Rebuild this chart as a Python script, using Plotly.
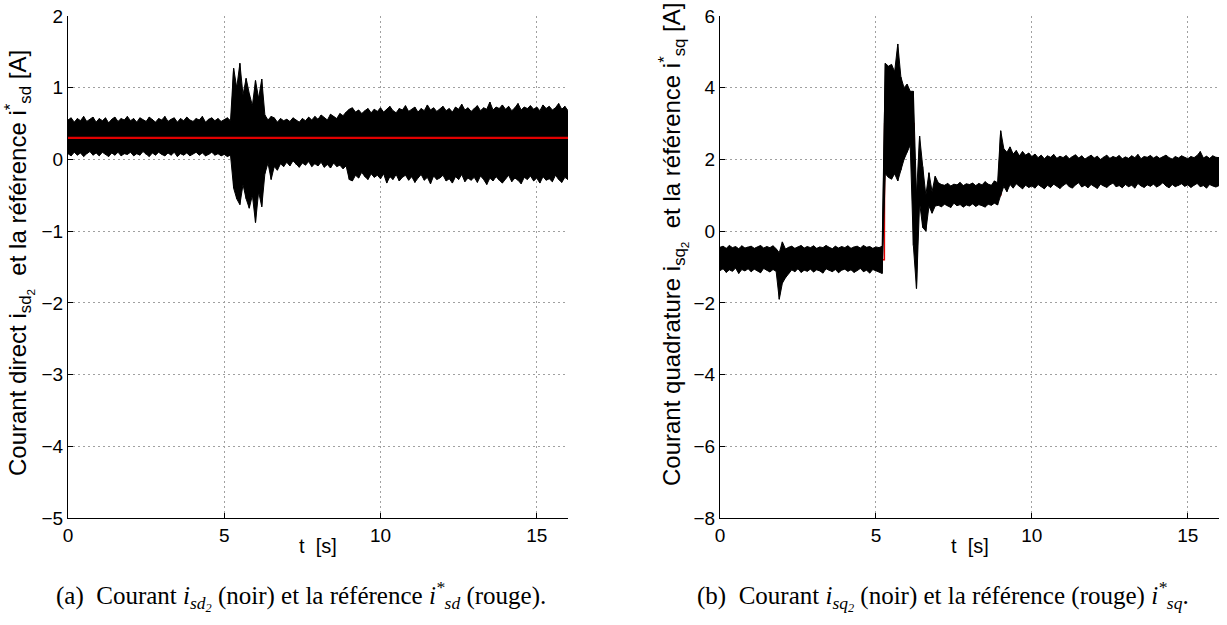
import numpy as np
import plotly.graph_objects as go

# ---------------- data ----------------
t = [round(0.1 * k, 1) for k in range(161)]  # time samples [s]

isd_hi = [0.55,0.58,0.52,0.57,0.54,0.60,0.53,0.56,0.59,0.52,
          0.57,0.54,0.58,0.51,0.56,0.59,0.53,0.57,0.55,0.60,
          0.54,0.57,0.52,0.58,0.55,0.53,0.59,0.56,0.52,0.57,
          0.55,0.60,0.53,0.56,0.58,0.52,0.57,0.54,0.59,0.55,
          0.53,0.57,0.55,0.60,0.52,0.56,0.58,0.54,0.57,0.53,
          0.55,0.58,0.54,1.27,1.00,1.34,0.90,1.13,0.92,0.75,
          1.10,0.85,1.12,0.62,0.55,0.60,0.58,0.52,0.57,0.54,
          0.56,0.53,0.58,0.55,0.52,0.57,0.54,0.59,0.55,0.60,
          0.56,0.62,0.58,0.55,0.63,0.60,0.57,0.64,0.61,0.66,
          0.70,0.72,0.66,0.69,0.64,0.68,0.71,0.65,0.70,0.67,
          0.72,0.66,0.70,0.74,0.68,0.65,0.71,0.69,0.75,0.67,
          0.70,0.73,0.66,0.71,0.68,0.76,0.69,0.72,0.67,0.70,
          0.74,0.68,0.71,0.66,0.73,0.70,0.77,0.69,0.72,0.67,
          0.71,0.75,0.68,0.72,0.70,0.80,0.69,0.73,0.71,0.76,
          0.70,0.74,0.68,0.72,0.78,0.69,0.73,0.71,0.75,0.70,
          0.73,0.68,0.76,0.71,0.74,0.69,0.72,0.78,0.70,0.74,
          0.68]
isd_lo = [0.08,0.05,0.10,0.06,0.09,0.04,0.08,0.11,0.06,0.09,
          0.05,0.10,0.07,0.04,0.09,0.06,0.10,0.05,0.08,0.07,
          0.10,0.05,0.08,0.06,0.11,0.07,0.04,0.09,0.06,0.10,
          0.07,0.05,0.09,0.06,0.10,0.04,0.08,0.06,0.09,0.05,
          0.08,0.10,0.06,0.09,0.05,0.07,0.10,0.06,0.08,0.05,
          0.07,0.04,0.06,-0.40,-0.55,-0.63,-0.35,-0.55,-0.68,-0.50,
          -0.88,-0.45,-0.66,-0.20,-0.05,-0.28,-0.10,-0.15,-0.06,-0.10,
          -0.04,-0.09,-0.02,-0.07,-0.11,-0.05,-0.08,-0.03,-0.10,-0.06,
          -0.09,-0.04,-0.11,-0.07,-0.12,-0.05,-0.10,-0.08,-0.13,-0.09,
          -0.28,-0.30,-0.22,-0.26,-0.18,-0.24,-0.28,-0.20,-0.25,-0.22,
          -0.27,-0.20,-0.33,-0.24,-0.28,-0.21,-0.30,-0.25,-0.22,-0.29,
          -0.24,-0.32,-0.26,-0.21,-0.29,-0.25,-0.34,-0.23,-0.28,-0.26,
          -0.22,-0.30,-0.27,-0.33,-0.24,-0.28,-0.21,-0.31,-0.26,-0.29,
          -0.25,-0.32,-0.23,-0.28,-0.35,-0.26,-0.30,-0.24,-0.29,-0.33,
          -0.27,-0.22,-0.31,-0.26,-0.29,-0.34,-0.25,-0.28,-0.23,-0.30,
          -0.26,-0.33,-0.24,-0.29,-0.27,-0.31,-0.22,-0.28,-0.32,-0.25,
          -0.28]
isd_ref_t = [0.0, 16.0]
isd_ref = [0.30, 0.30]

isq_hi = [-0.45,-0.42,-0.48,-0.40,-0.46,-0.43,-0.49,-0.41,-0.47,-0.44,
          -0.42,-0.48,-0.45,-0.40,-0.47,-0.43,-0.46,-0.41,-0.49,-0.60,
          -0.30,-0.50,-0.45,-0.42,-0.48,-0.44,-0.40,-0.47,-0.43,-0.46,
          -0.41,-0.48,-0.44,-0.46,-0.40,-0.45,-0.49,-0.42,-0.47,-0.43,
          -0.46,-0.41,-0.48,-0.44,-0.42,-0.47,-0.40,-0.45,-0.43,-0.48,
          -0.44,-0.46,-0.42,4.68,4.60,4.65,4.45,5.22,4.30,4.00,
          4.10,3.90,3.90,1.00,2.65,1.80,1.00,1.63,1.10,1.53,
          1.35,1.30,1.28,1.33,1.26,1.31,1.29,1.36,1.27,1.32,
          1.30,1.34,1.27,1.33,1.29,1.38,1.31,1.28,1.40,1.35,
          2.80,2.30,2.20,2.35,2.15,2.25,2.10,2.22,2.12,2.18,
          2.08,2.15,2.05,2.12,2.02,2.10,2.06,2.14,2.03,2.09,
          2.05,2.11,2.02,2.08,2.13,2.04,2.10,2.01,2.07,2.12,
          2.04,2.09,2.00,2.07,2.12,2.03,2.08,2.05,2.11,2.02,
          2.07,2.03,2.10,2.05,2.14,2.02,2.08,2.06,2.11,2.04,
          2.09,2.03,2.07,2.12,2.05,2.01,2.08,2.04,2.10,2.06,
          2.02,2.08,2.05,2.11,2.22,2.04,2.09,2.03,2.10,2.06,
          2.05]
isq_lo = [-1.10,-1.05,-1.15,-1.08,-1.12,-1.03,-1.18,-1.07,-1.11,-1.05,
          -1.13,-1.06,-1.10,-1.16,-1.04,-1.09,-1.14,-1.07,-1.12,-1.90,
          -1.45,-1.30,-1.18,-1.08,-1.13,-1.05,-1.15,-1.09,-1.12,-1.06,
          -1.14,-1.08,-1.11,-1.17,-1.05,-1.10,-1.13,-1.07,-1.16,-1.09,
          -1.06,-1.12,-1.08,-1.15,-1.10,-1.04,-1.13,-1.09,-1.17,-1.07,
          -1.11,-1.14,-1.18,1.60,1.50,1.45,1.60,1.40,1.70,2.00,
          2.20,2.40,-0.40,-1.60,0.80,0.10,0.00,0.70,0.50,0.70,
          0.72,0.68,0.75,0.70,0.66,0.78,0.71,0.74,0.67,0.73,
          0.70,0.76,0.69,0.74,0.71,0.67,0.75,0.72,0.78,0.73,
          1.00,1.25,1.10,1.30,1.20,1.32,1.25,1.18,1.28,1.22,
          1.26,1.20,1.30,1.24,1.18,1.28,1.22,1.31,1.25,1.19,
          1.27,1.33,1.24,1.20,1.29,1.35,1.23,1.28,1.21,1.30,
          1.25,1.19,1.31,1.26,1.22,1.29,1.34,1.24,1.27,1.21,
          1.30,1.24,1.28,1.20,1.33,1.26,1.22,1.29,1.25,1.31,
          1.23,1.28,1.35,1.26,1.21,1.30,1.24,1.27,1.32,1.25,
          1.29,1.22,1.28,1.33,1.24,1.27,1.20,1.30,1.26,1.23,
          1.27]
isq_ref_t = [0.0, 5.27, 5.28, 6.22, 6.26, 6.32, 9.0, 9.01, 16.0]
isq_ref = [-0.80, -0.80, 3.00, 3.00, -0.50, 1.00, 1.00, 1.70, 1.70]

x_ticks = [0, 5, 10, 15]
isd_ticks = [-5, -4, -3, -2, -1, 0, 1, 2]
isq_ticks = [-8, -6, -4, -2, 0, 2, 4, 6]

# ---------------- figure ----------------
W, H = 1227, 625
SANS = "Liberation Sans"
SERIF = "Liberation Serif"


def band_traces(tt, hi, lo, xa, ya):
    tt = np.asarray(tt); hi = np.asarray(hi); lo = np.asarray(lo)
    poly_x = np.concatenate([tt, tt[::-1]])
    poly_y = np.concatenate([hi, lo[::-1]])
    zx = np.column_stack([tt, tt]).ravel()
    zy = np.column_stack([hi, lo]).ravel()
    return [
        go.Scatter(x=poly_x, y=poly_y, fill="toself", fillcolor="black",
                   mode="lines", line=dict(color="black", width=1),
                   xaxis=xa, yaxis=ya, hoverinfo="skip"),
        go.Scatter(x=zx, y=zy, mode="lines", line=dict(color="black", width=1.2),
                   xaxis=xa, yaxis=ya, hoverinfo="skip"),
    ]


fig = go.Figure()
for tr in band_traces(t, isd_hi, isd_lo, "x", "y"):
    fig.add_trace(tr)
fig.add_trace(go.Scatter(x=isd_ref_t, y=isd_ref, mode="lines",
                         line=dict(color="#e00000", width=2.2), xaxis="x", yaxis="y"))
fig.add_trace(go.Scatter(x=isq_ref_t, y=isq_ref, mode="lines",
                         line=dict(color="#e00000", width=1.5), xaxis="x2", yaxis="y2"))
for tr in band_traces(t, isq_hi, isq_lo, "x2", "y2"):
    fig.add_trace(tr)


def px_x(p):
    return p / W


def px_y(p):
    return 1 - p / H


axis_common = dict(showline=True, linecolor="black", linewidth=1, mirror=False,
                   ticks="inside", ticklen=5, tickcolor="black",
                   showgrid=True, gridcolor="#a0a0a0", griddash="2px,3px", gridwidth=1,
                   zeroline=False, tickfont=dict(family=SANS, size=19, color="black"))

fig.update_layout(
    width=W, height=H, showlegend=False,
    paper_bgcolor="white", plot_bgcolor="white",
    margin=dict(l=0, r=0, t=0, b=0, pad=0, autoexpand=False),
    xaxis=dict(domain=[px_x(68), px_x(568)], range=[0, 16], tickvals=x_ticks,
               anchor="y", **axis_common),
    yaxis=dict(domain=[px_y(518), px_y(16)], range=[-5, 2], tickvals=isd_ticks,
               anchor="x", **axis_common),
    xaxis2=dict(domain=[px_x(720), px_x(1219)], range=[0, 16], tickvals=x_ticks,
                anchor="y2", **axis_common),
    yaxis2=dict(domain=[px_y(518), px_y(16)], range=[-8, 6], tickvals=isq_ticks,
                anchor="x2", **axis_common),
)


def note(text, xp, yp, font, angle=0):
    return dict(text=text, x=px_x(xp), y=px_y(yp), xref="paper", yref="paper",
                xanchor="center", yanchor="middle", textangle=angle,
                showarrow=False, font=font)


f_title = dict(family=SANS, size=24, color="black")
f_x = dict(family=SANS, size=20, color="black")
f_cap = dict(family=SERIF, size=25, color="black")

ann = [
    note("Courant direct i<sub>sd<sub>2</sub></sub>  et la référence i<sup>*</sup><sub>sd</sub> [A]",
         19, 263, f_title, -90),
    note("Courant quadrature i<sub>sq<sub>2</sub></sub>  et la référence i<sup>*</sup><sub>sq</sub> [A]",
         673, 245, f_title, -90),
    note("t  [s]", 318, 546, f_x),
    note("t  [s]", 970, 546, f_x),
    note("(a)  Courant <i>i<sub>sd<sub>2</sub></sub></i> (noir) et la référence <i>i<sup>*</sup><sub>sd</sub></i> (rouge).",
         301, 596, f_cap),
    note("(b)  Courant <i>i<sub>sq<sub>2</sub></sub></i> (noir) et la référence (rouge) <i>i<sup>*</sup><sub>sq</sub></i>.",
         943, 596, f_cap),
]
fig.update_layout(annotations=ann)

fig.write_html("out.html", config={"displayModeBar": False},
               post_script="document.body.style.margin='0px';")
